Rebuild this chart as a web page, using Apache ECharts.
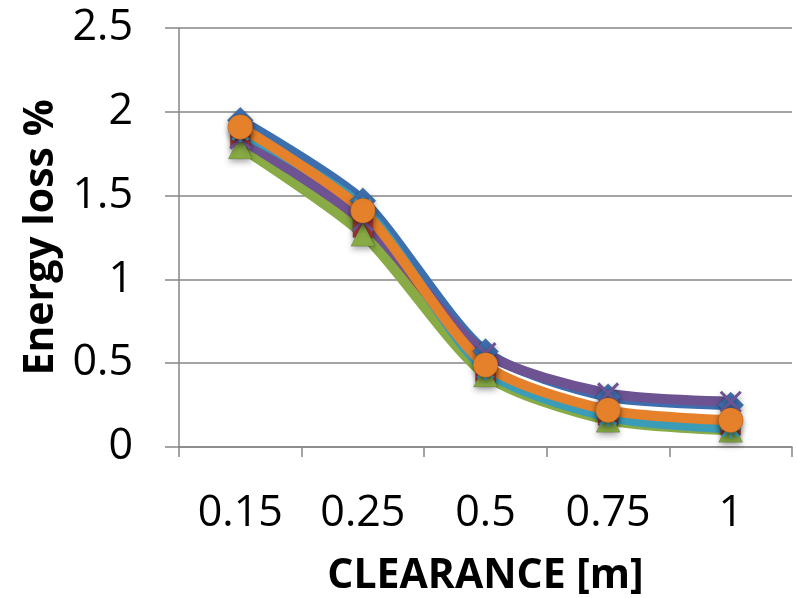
<!DOCTYPE html>
<html><head><meta charset="utf-8">
<script src="https://cdn.jsdelivr.net/npm/echarts@6/dist/echarts.min.js"></script>
<style>html,body{margin:0;padding:0;background:#fff}#c{width:798px;height:598px}</style>
</head><body><div id="c"></div>
<script>
const categories = ['0.15', '0.25', '0.5', '0.75', '1'];
const yTicks = [0, 0.5, 1, 1.5, 2, 2.5];
const seriesBlue   = [1.95, 1.47, 0.57, 0.30, 0.25];
const seriesRed    = [1.85, 1.31, 0.45, 0.19, 0.13];
const seriesGreen  = [1.79, 1.27, 0.43, 0.16, 0.10];
const seriesPurple = [1.84, 1.35, 0.56, 0.32, 0.27];
const seriesAqua   = [1.88, 1.43, 0.46, 0.18, 0.11];
const seriesOrange = [1.91, 1.41, 0.49, 0.22, 0.16];

const defs = [
  {name:'S1', data:seriesBlue, color:'#3D6FAE', symbol:'diamond', size:26},
  {name:'S2', data:seriesRed, color:'#B03A37', symbol:'rect', size:20},
  {name:'S3', data:seriesGreen, color:'#88AB45', symbol:'triangle', size:24},
  {name:'S4', data:seriesPurple, color:'#6E5393', symbol:'path://M0,0L10,10M10,0L0,10', size:20},
  {name:'S5', data:seriesAqua, color:'#3B9CB7', symbol:'path://M5,0L5,10M0,5L10,5M1,1L9,9M9,1L1,9', size:20},
  {name:'S6', data:seriesOrange, color:'#E5802B', symbol:'circle', size:25}
];

const chart = echarts.init(document.getElementById('c'));
chart.setOption({
  animation:false,
  grid:{left:179, right:6, top:28, bottom:151, outerBoundsMode:'none', containLabel:false},
  xAxis:{type:'category', data:categories, boundaryGap:true,
    axisLine:{lineStyle:{color:'#868686', width:1.5}},
    axisTick:{show:true, length:10, lineStyle:{color:'#868686', width:1.5}},
    axisLabel:{fontFamily:'Open Sans', fontSize:43, color:'#000', margin:45},
    name:'CLEARANCE [m]', nameLocation:'middle', nameGap:109,
    nameTextStyle:{fontFamily:'Open Sans', fontWeight:'bold', fontSize:41, color:'#000'}},
  yAxis:{type:'value', min:0, max:2.5, interval:0.5,
    axisLine:{show:true, lineStyle:{color:'#868686', width:1.5}},
    axisTick:{show:true, length:14, inside:false, lineStyle:{color:'#868686', width:1.5}},
    splitLine:{lineStyle:{color:'#868686', width:1.5}},
    axisLabel:{fontFamily:'Open Sans', fontSize:43, color:'#000', margin:46,
      formatter:v=>yTicks.includes(v)?String(v):''},
    name:'Energy loss %', nameLocation:'middle', nameGap:113,
    nameTextStyle:{fontFamily:'Open Sans', fontWeight:'bold', fontSize:41, color:'#000'}},
  series: defs.map(d=>({
    name:d.name, type:'line', data:d.data, smooth:0.25,
    symbol:d.symbol, symbolSize:d.size,
    lineStyle:{color:d.color, width:10},
    itemStyle:{color:d.color, borderColor: d.symbol.startsWith('path')? d.color : 'rgba(0,0,0,0.15)', borderWidth: d.symbol.startsWith('path')? 3 : 1,
      shadowColor:'rgba(0,0,0,0.35)', shadowBlur:6, shadowOffsetY:3}
  }))
});
</script></body></html>
